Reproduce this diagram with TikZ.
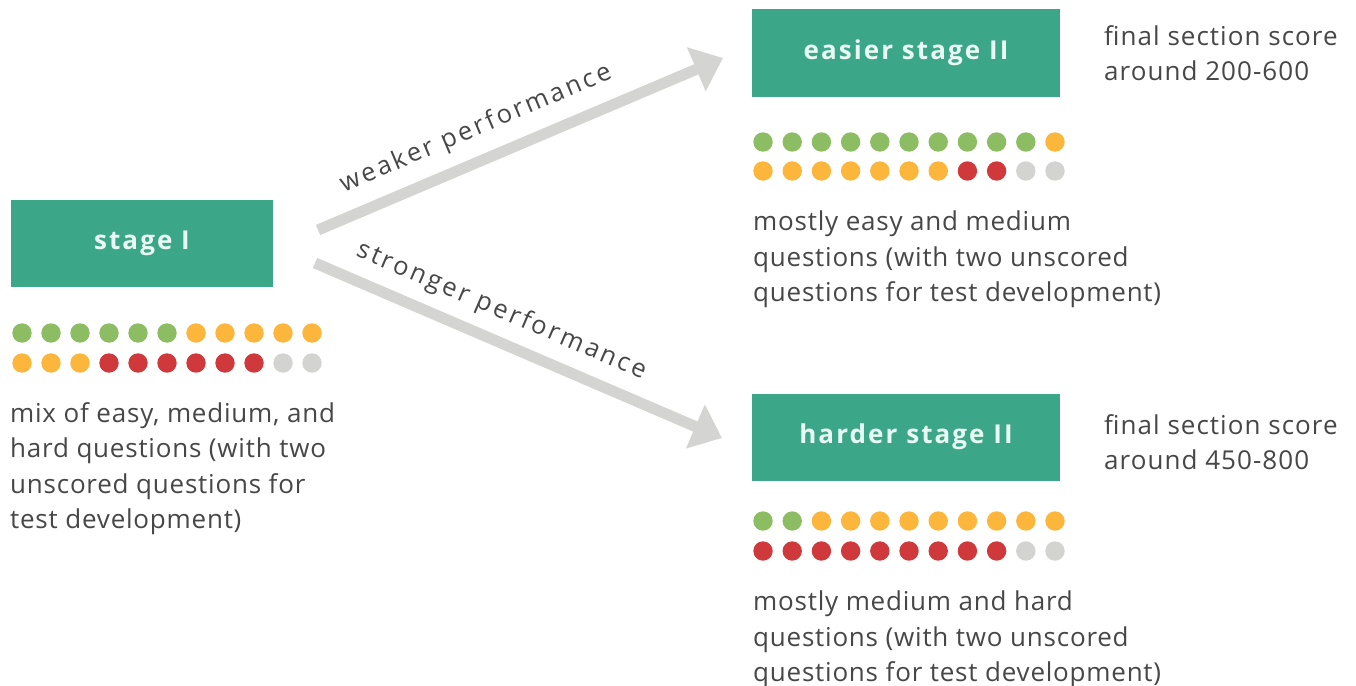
\documentclass[tikz,border=0pt]{standalone}
\usepackage{fontspec}
\setmainfont{Open Sans}
\usetikzlibrary{arrows.meta}
\definecolor{teal1}{HTML}{3BA688}
\definecolor{boxtxt}{HTML}{E8FAF3}
\definecolor{txt}{HTML}{474747}
\definecolor{arr}{HTML}{D4D4D2}
\definecolor{dg}{HTML}{8DBD62}
\definecolor{dy}{HTML}{FBB63B}
\definecolor{dr}{HTML}{CF393B}
\definecolor{dn}{HTML}{D3D3D1}
\tikzset{
  stagebox/.style={fill=teal1, text=boxtxt, minimum height=87pt, inner sep=0pt, font=\fontsize{26}{30}\bfseries\addfontfeatures{LetterSpace=8}},
  desc/.style={text=txt, anchor=north west, align=left, inner sep=0pt, font=\fontsize{26}{35.5}\selectfont\addfontfeatures{LetterSpace=3}},
  score/.style={text=txt, anchor=north west, align=left, inner sep=0pt, font=\fontsize{26}{35.5}\selectfont\addfontfeatures{LetterSpace=4}},
  bigarrow/.style={draw=arr, line width=11pt, line cap=butt, -{Triangle[width=46pt,length=29pt]}},
  arrlabel/.style={text=txt, sloped, font=\fontsize{25.5}{28}\selectfont\addfontfeatures{LetterSpace=11}, inner sep=0pt},
}
\newcommand{\dotrow}[4]{% x0, y, spacing, list of colours
  \foreach \c [count=\i from 0] in {#4} {\fill[\c] ({#1+\i*#3},#2) circle[radius=9.7pt];}}
\begin{document}
\begin{tikzpicture}[x=1pt,y=-1pt]
\useasboundingbox[fill=white] (0,0) rectangle (1356,685);
% boxes
\node[stagebox, minimum width=262pt] (s1) at (142,243) {stage I};
\node[stagebox, minimum width=308pt] (se) at (906,53) {easier stage II};
\node[stagebox, minimum width=308pt] (sh) at (906,437) {harder stage II};
% dots
\dotrow{22}{333}{29}{dg,dg,dg,dg,dg,dg,dy,dy,dy,dy,dy}
\dotrow{22}{363}{29}{dy,dy,dy,dr,dr,dr,dr,dr,dr,dn,dn}
\dotrow{763}{142}{29.2}{dg,dg,dg,dg,dg,dg,dg,dg,dg,dg,dy}
\dotrow{763}{171}{29.2}{dy,dy,dy,dy,dy,dy,dy,dr,dr,dn,dn}
\dotrow{763}{521}{29.2}{dg,dg,dy,dy,dy,dy,dy,dy,dy,dy,dy}
\dotrow{763}{551}{29.2}{dr,dr,dr,dr,dr,dr,dr,dr,dr,dn,dn}
% descriptions
\node[desc] (d1) at (10,402) {mix of easy, medium, and\\hard questions (with two\\unscored questions for\\test development)};
\node[desc] (de) at (753,211) {mostly easy and medium\\questions (with two unscored\\questions for test development)};
\node[desc] (dh) at (753,591) {mostly medium and hard\\questions (with two unscored\\questions for test development)};
\node[score] (ce) at (1104,25) {final section score\\around 200-600};
\node[score] (ch) at (1104,414) {final section score\\around 450-800};
% arrows
\coordinate (w1) at (318,230);
\coordinate (w2) at (723,58);
\coordinate (t1) at (315,263);
\coordinate (t2) at (722,438);
\draw[bigarrow] (w1) -- (w2) node[arrlabel, pos=0.42, anchor=south, yshift=13pt] (lw) {weaker performance};
\draw[bigarrow] (t1) -- (t2) node[arrlabel, pos=0.43, anchor=south, yshift=11pt] (ls) {stronger performance};
\end{tikzpicture}
\end{document}
